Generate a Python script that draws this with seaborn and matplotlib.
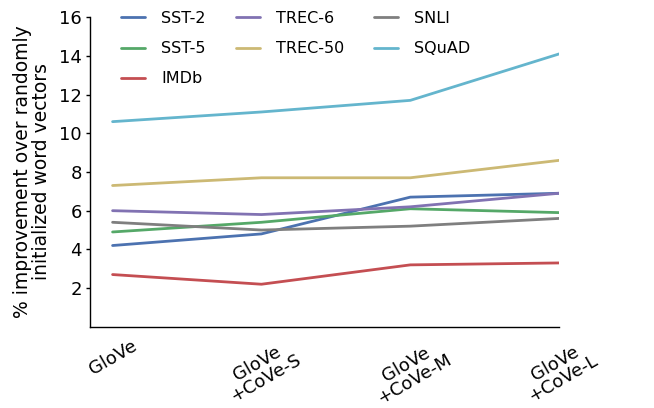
import matplotlib
matplotlib.use("Agg")
import matplotlib.pyplot as plt
import seaborn as sns
import pandas as pd

categories = ["GloVe", "GloVe\n+CoVe-S", "GloVe\n+CoVe-M", "GloVe\n+CoVe-L"]
series_names = ["SST-2", "SST-5", "IMDb", "TREC-6", "TREC-50", "SNLI", "SQuAD"]
sst2 = [4.2, 4.8, 6.7, 6.9]
sst5 = [4.9, 5.4, 6.1, 5.9]
imdb = [2.7, 2.2, 3.2, 3.3]
trec6 = [6.0, 5.8, 6.2, 6.9]
trec50 = [7.3, 7.7, 7.7, 8.6]
snli = [5.4, 5.0, 5.2, 5.6]
squad = [10.6, 11.1, 11.7, 14.1]
yticks = [2, 4, 6, 8, 10, 12, 14, 16]

colors = ["#4C72B0", "#55A868", "#C44E52", "#8172B2", "#CCB974", "#7F7F7F", "#64B5CD"]

sns.set_theme(style="white")
plt.rcParams["font.family"] = ["DejaVu Sans"]
plt.rcParams["text.color"] = "black"
plt.rcParams["axes.labelcolor"] = "black"

rows = []
for name, vals in zip(series_names, [sst2, sst5, imdb, trec6, trec50, snli, squad]):
    for i, v in enumerate(vals):
        rows.append({"x": i, "value": v, "task": name})
df = pd.DataFrame(rows)

fig = plt.figure(figsize=(6.54, 4.08), dpi=100)
ax = fig.add_axes([0.138, 0.199, 0.717, 0.759])
sns.lineplot(data=df, x="x", y="value", hue="task", hue_order=series_names,
             palette=colors, linewidth=2, ax=ax, legend=True)

ax.set_xlim(-0.15, 3)
ax.set_ylim(0, 16)
ax.set_yticks(yticks)
ax.set_yticklabels([str(t) for t in yticks], fontsize=13)
ax.set_xticks(range(len(categories)))
ax.set_xticklabels(categories, rotation=30, fontsize=13, ha="center", linespacing=0.9)
ax.set_xlabel("")
ax.set_ylabel("% improvement over randomly\ninitialized word vectors", fontsize=13.5,
              linespacing=0.95, labelpad=6, color="black")
ax.tick_params(axis="y", which="both", left=True, length=3, width=1, direction="out", pad=3,
               colors="black", labelcolor="black")
ax.tick_params(axis="x", bottom=False, pad=1, colors="black", labelcolor="black")
for s in ["top", "right"]:
    ax.spines[s].set_visible(False)
for s in ["left", "bottom"]:
    ax.spines[s].set_color("black")
    ax.spines[s].set_linewidth(1)

handles, labels = ax.get_legend_handles_labels()
leg = ax.legend(handles, labels, ncol=3, frameon=False, loc="upper left",
                bbox_to_anchor=(0.035, 1.066), fontsize=11.5, labelspacing=0.95,
                columnspacing=1.9, handlelength=1.5, handletextpad=1.0)
for t in leg.get_texts():
    t.set_color("black")

fig.savefig("out.png", dpi=100)
